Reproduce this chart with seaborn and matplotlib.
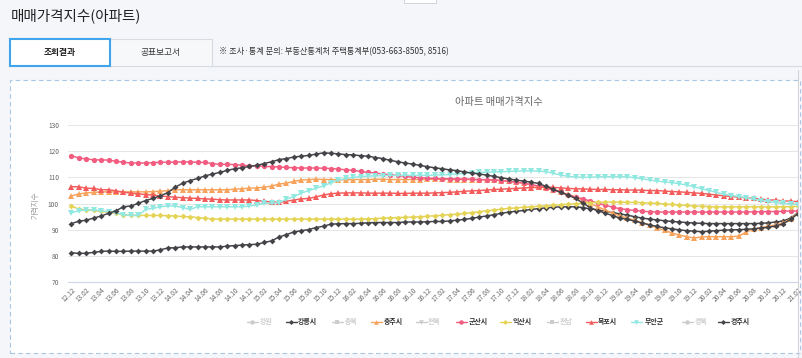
import matplotlib
matplotlib.use("Agg")
import matplotlib.pyplot as plt
from matplotlib.lines import Line2D
from matplotlib.patches import Rectangle
import seaborn as sns
import pandas as pd

# monthly index, 2012.12 ~ 2021.02
months = pd.period_range("2012-12", periods=99, freq="M").strftime("%y.%m").tolist()

gangneung = [81.3, 81.0, 81.1, 81.4, 81.8, 81.9, 81.8, 81.8, 81.9, 81.9,
             81.9, 81.9, 82.4, 83.1, 83.2, 83.5, 83.5, 83.5, 83.5, 83.5,
             83.5, 83.8, 84.0, 84.2, 84.4, 84.5, 85.2, 85.8, 87.3, 88.2,
             89.2, 89.7, 90.1, 90.9, 91.4, 92.2, 92.3, 92.4, 92.4, 92.5,
             92.7, 92.8, 92.8, 92.8, 92.8, 93.0, 93.0, 93.0, 93.1, 93.2,
             93.2, 93.4, 93.7, 94.0, 94.4, 94.9, 95.3, 95.8, 96.3, 96.8,
             97.1, 97.4, 97.8, 98.1, 98.4, 98.6, 98.8, 98.8, 98.8, 98.5,
             98.0, 97.6, 97.1, 96.6, 96.1, 95.6, 95.0, 94.5, 94.1, 93.8,
             93.5, 93.2, 93.0, 92.8, 92.6, 92.5, 92.4, 92.4, 92.4, 92.4,
             92.4, 92.4, 92.4, 92.5, 92.7, 93.0, 93.4, 94.5, 96.5]
chungju = [103.0, 103.7, 104.1, 104.3, 104.5, 104.5, 104.5, 104.5, 104.5, 104.5,
           104.5, 104.6, 104.7, 105.0, 105.3, 105.3, 105.3, 105.3, 105.3, 105.3,
           105.3, 105.3, 105.5, 105.7, 105.9, 106.0, 106.3, 106.7, 107.5, 107.8,
           108.5, 109.0, 109.2, 109.3, 109.2, 109.2, 109.1, 109.1, 109.2, 109.2,
           109.2, 109.3, 109.3, 109.2, 109.2, 109.2, 109.2, 109.2, 109.3, 109.3,
           109.3, 109.2, 109.2, 109.2, 109.2, 109.1, 109.1, 109.0, 108.8, 108.5,
           108.2, 107.8, 107.2, 106.6, 105.9, 105.2, 104.4, 103.5, 102.5, 101.3,
           100.0, 98.8, 97.6, 96.4, 95.3, 94.4, 93.6, 92.8, 91.9, 90.8,
           89.8, 88.8, 88.0, 87.4, 86.9, 87.3, 87.4, 87.4, 87.4, 87.4,
           87.6, 89.2, 90.3, 90.9, 91.4, 91.9, 92.6, 94.2, 96.5]
gunsan = [118.3, 117.4, 117.1, 116.7, 116.7, 116.6, 116.2, 115.8, 115.5, 115.5,
          115.5, 115.6, 115.8, 115.8, 115.9, 115.9, 115.9, 115.8, 115.7, 115.3,
          115.0, 115.0, 114.9, 114.6, 114.5, 114.4, 114.2, 114.1, 114.0, 113.8,
          113.7, 113.6, 113.6, 113.6, 113.5, 113.4, 113.2, 112.9, 112.7, 112.3,
          111.9, 111.7, 111.3, 111.0, 110.8, 110.4, 110.1, 109.9, 109.7, 109.6,
          109.5, 109.5, 109.4, 109.4, 109.3, 109.2, 109.1, 109.0, 108.8, 108.5,
          108.2, 107.8, 107.3, 106.7, 106.0, 105.2, 104.3, 103.4, 102.5, 101.8,
          101.0, 100.2, 99.4, 98.6, 98.1, 97.7, 97.4, 97.1, 96.9, 96.8,
          96.8, 96.8, 96.8, 96.8, 96.8, 96.8, 96.8, 96.8, 96.8, 96.8,
          96.8, 96.8, 96.9, 96.9, 97.0, 97.0, 97.1, 97.2, 97.2]
iksan = [99.1, 97.9, 97.6, 97.4, 97.1, 96.7, 96.3, 95.8, 95.6, 95.5,
         95.5, 95.5, 95.5, 95.4, 95.3, 95.1, 95.0, 94.7, 94.4, 94.2,
         94.1, 94.1, 94.1, 94.1, 94.1, 94.1, 94.1, 94.1, 94.1, 94.1,
         94.1, 94.1, 94.1, 94.1, 94.1, 94.1, 94.1, 94.1, 94.1, 94.1,
         94.2, 94.3, 94.5, 94.6, 94.7, 94.8, 94.9, 95.0, 95.2, 95.4,
         95.6, 95.8, 96.0, 96.3, 96.6, 96.9, 97.3, 97.6, 97.9, 98.2,
         98.4, 98.6, 98.8, 99.0, 99.2, 99.4, 99.6, 99.8, 100.0, 100.2,
         100.4, 100.5, 100.6, 100.6, 100.6, 100.5, 100.5, 100.4, 100.2, 100.1,
         99.9, 99.7, 99.5, 99.3, 99.1, 99.0, 98.9, 98.8, 98.8, 98.8,
         98.8, 98.8, 98.8, 98.8, 98.8, 98.8, 98.8, 98.9, 99.0]
mokpo = [106.5, 106.4, 105.9, 105.8, 105.3, 105.3, 104.9, 104.4, 104.0, 103.8,
         103.4, 103.3, 102.9, 102.7, 102.4, 102.3, 102.1, 102.0, 101.8, 101.7,
         101.5, 101.4, 101.4, 101.4, 101.4, 101.2, 100.9, 100.6, 100.5, 100.9,
         101.4, 101.8, 102.0, 102.6, 103.3, 103.8, 104.0, 104.1, 104.1, 104.1,
         104.0, 104.0, 104.0, 104.0, 103.9, 103.9, 104.0, 104.0, 104.0, 104.1,
         104.2, 104.3, 104.5, 104.7, 104.9, 105.0, 105.2, 105.4, 105.5, 105.7,
         105.8, 106.0, 106.1, 106.2, 106.3, 106.2, 106.0, 105.8, 105.7, 105.6,
         105.5, 105.4, 105.4, 105.3, 105.3, 105.2, 105.2, 105.1, 105.0, 105.0,
         104.8, 104.6, 104.5, 104.3, 104.1, 103.9, 103.6, 103.3, 103.0, 102.7,
         102.5, 102.2, 102.0, 101.7, 101.5, 101.3, 101.1, 100.9, 100.8]
muan = [96.5, 97.3, 97.6, 97.6, 97.3, 96.9, 96.5, 95.7, 95.5, 95.5,
        97.8, 98.2, 98.8, 99.1, 99.1, 98.5, 97.8, 98.8, 98.8, 98.8,
        98.8, 98.8, 98.8, 98.8, 99.1, 99.5, 100.1, 100.1, 100.4, 101.7,
        102.7, 104.0, 105.0, 105.9, 106.8, 107.9, 109.0, 109.6, 110.0, 110.3,
        110.5, 110.6, 110.7, 110.8, 110.8, 110.8, 110.8, 110.8, 110.8, 110.9,
        111.0, 111.1, 111.3, 111.5, 111.7, 111.9, 112.0, 112.1, 112.2, 112.3,
        112.4, 112.5, 112.5, 112.4, 112.2, 111.6, 110.9, 110.4, 110.2, 110.0,
        110.1, 110.2, 110.3, 110.3, 110.3, 110.2, 109.9, 109.5, 109.0, 108.6,
        108.3, 108.0, 107.6, 107.1, 106.4, 105.7, 105.0, 104.3, 103.6, 103.1,
        102.7, 102.2, 101.7, 101.2, 100.8, 100.4, 100.1, 99.8, 99.6]
gyeongju = [92.4, 93.3, 93.7, 94.5, 95.3, 96.3, 97.3, 98.8, 99.1, 100.1,
            101.2, 102.0, 103.0, 104.2, 106.3, 107.8, 108.8, 109.6, 110.6, 111.3,
            111.9, 112.7, 113.3, 113.7, 114.2, 114.6, 115.3, 116.0, 116.8, 117.2,
            117.8, 118.1, 118.4, 118.9, 119.4, 119.2, 119.0, 118.7, 118.6, 118.3,
            118.1, 117.6, 117.2, 116.5, 116.0, 115.5, 115.1, 114.6, 114.1, 113.7,
            113.3, 112.9, 112.6, 112.1, 111.7, 111.3, 110.9, 110.4, 109.9, 109.4,
            109.0, 108.6, 108.2, 107.7, 106.6, 105.5, 104.3, 103.2, 102.0, 100.2,
            98.4, 97.3, 96.4, 95.4, 94.5, 94.0, 93.3, 92.6, 91.9, 91.3,
            90.8, 90.4, 90.0, 89.7, 89.5, 89.3, 89.5, 89.7, 89.9, 90.0,
            90.1, 90.2, 90.4, 90.7, 91.0, 91.5, 92.3, 94.0, 96.2]

series_names = ["강릉시", "충주시", "군산시", "익산시", "목포시", "무안군", "경주시"]
series_values = [gangneung, chungju, gunsan, iksan, mokpo, muan, gyeongju]
legend_names = ["강원", "강릉시", "충북", "충주시", "전북", "군산시",
                "익산시", "전남", "목포시", "무안군", "경북", "경주시"]

colors = {"강릉시": "#434348", "충주시": "#f7a35c", "군산시": "#f15c80", "익산시": "#e4d354",
          "목포시": "#f45b5b", "무안군": "#91e8e1", "경주시": "#434348"}
markers = {"강원": "o", "강릉시": "D", "충북": "s", "충주시": "^", "전북": "v", "군산시": "o",
           "익산시": "D", "전남": "s", "목포시": "^", "무안군": "v", "경북": "o", "경주시": "D"}
# diamonds look bigger than the other symbols at the same size
msize = {"o": 3.8, "D": 3.0, "s": 3.2, "^": 3.9, "v": 3.9}

df = pd.DataFrame({
    "idx": list(range(len(months))) * len(series_names),
    "value": sum(series_values, []),
    "region": [n for n in series_names for _ in months],
})

W, H = 803, 358
sns.set_style("white")
plt.rcParams["font.family"] = ["Noto Sans CJK KR", "DejaVu Sans"]


def fx(x):
    return x / W


def fy(y):
    return 1 - y / H


fig = plt.figure(figsize=(W / 100, H / 100), dpi=100)
fig.patch.set_facecolor("#f4f6f9")

# page header
fig.text(fx(11), fy(16), "매매가격지수(아파트)", fontsize=10.5, color="#222222", va="center")
fig.add_artist(Rectangle((fx(404), fy(3)), fx(32), 0.03, transform=fig.transFigure,
                         facecolor="white", edgecolor="#cfd4da", lw=0.7, zorder=-2))
fig.add_artist(Rectangle((fx(110), fy(66)), fx(102), fy(39) - fy(66), transform=fig.transFigure,
                         facecolor="#f7f8fa", edgecolor="#d6dbe1", lw=0.8, zorder=-2))
fig.add_artist(Rectangle((fx(10), fy(66)), fx(100), fy(39) - fy(66), transform=fig.transFigure,
                         facecolor="white", edgecolor="#41a5ee", lw=1.5, zorder=-1))
fig.text(fx(60), fy(52.5), "조회결과", fontsize=6.3, fontweight="bold", color="#222222",
         ha="center", va="center")
fig.text(fx(161), fy(52.5), "공표보고서", fontsize=6.3, color="#333333", ha="center", va="center")
fig.text(fx(219), fy(52), "※ 조사·통계 문의: 부동산통계처 주택통계부(053-663-8505, 8516)",
         fontsize=5.9, color="#333333", va="center")
fig.add_artist(Line2D([fx(212), 1], [fy(66), fy(66)], transform=fig.transFigure,
                      color="#d6dbe1", lw=0.8, zorder=-2))

# dashed chart container
fig.add_artist(Rectangle((fx(10.5), fy(352.5)), fx(800) - fx(10.5), fy(80) - fy(352.5),
                         transform=fig.transFigure, facecolor="white", edgecolor="#a9c6e6",
                         lw=0.8, linestyle=(0, (4, 3)), zorder=-3))
fig.add_artist(Line2D([fx(798), fx(798)], [fy(70), 0], transform=fig.transFigure,
                      color="#d0d4d9", lw=0.8, zorder=3))

fig.text(fx(499), fy(101.7), "아파트 매매가격지수", fontsize=7.4, color="#666666",
         ha="center", va="center")
fig.text(fx(36), fy(205), "가격지수", fontsize=5.4, color="#999999", rotation=90,
         ha="center", va="center")

ax = fig.add_axes([fx(68), fy(282.3), fx(798) - fx(68), fy(125) - fy(282.3)])
ax.set_zorder(1)
ax.set_facecolor("white")
for marker_kind in ["o", "D", "^", "v"]:
    names = [n for n in series_names if markers[n] == marker_kind]
    sub = df[df["region"].isin(names)]
    sns.lineplot(data=sub, x="idx", y="value", hue="region", style="region",
                 hue_order=names, style_order=names, palette=colors,
                 markers={n: marker_kind for n in names}, dashes=False,
                 markersize=msize[marker_kind], markeredgewidth=0, linewidth=1.05,
                 legend=False, ax=ax)

# keep the original series stacking order
order = {n: i for i, n in enumerate(series_names)}
for line in ax.get_lines():
    ydata = list(line.get_ydata())
    for n, vals in zip(series_names, series_values):
        if ydata == vals:
            line.set_zorder(2 + order[n] * 0.1)

ax.set_xlim(-0.47, 97.75)
ax.set_ylim(70, 130)
ax.set_yticks(range(70, 131, 10))
ax.set_xticks(range(0, len(months), 2))
ax.set_xticklabels(months[::2], rotation=45, ha="right", rotation_mode="anchor")
ax.tick_params(axis="x", length=0, pad=2.5, labelsize=4.8, labelcolor="#666666")
ax.tick_params(axis="y", length=0, pad=6.5, labelsize=4.8, labelcolor="#666666")
ax.set_xlabel("")
ax.set_ylabel("")
ax.grid(axis="y", color="#e6e6e6", lw=0.75)
ax.grid(axis="x", visible=False)
for side in ["left", "right", "top"]:
    ax.spines[side].set_visible(False)
ax.spines["bottom"].set_color("#ccd6eb")
ax.spines["bottom"].set_linewidth(0.8)

# legend (hidden series greyed out)
sym_x = [247, 286, 332, 371, 416, 456, 500, 547, 586, 631, 682, 718]
txt_x = [260, 298, 345, 384, 428, 469, 513, 560, 598, 645, 695, 731]
for name, sx, tx in zip(legend_names, sym_x, txt_x):
    visible = name in colors
    c = colors[name] if visible else "#cccccc"
    fig.add_artist(Line2D([fx(sx), fx(sx + 11)], [fy(321.7), fy(321.7)], transform=fig.transFigure,
                          color=c, lw=1.0))
    fig.add_artist(Line2D([fx(sx + 5.5)], [fy(321.7)], transform=fig.transFigure, color=c,
                          marker=markers[name], markersize=msize[markers[name]] * 0.85,
                          markeredgewidth=0))
    fig.text(fx(tx), fy(321.7), name, fontsize=5.0, color="#333333" if visible else "#cccccc",
             fontweight="bold", va="center")

fig.savefig("out.png", dpi=100, facecolor=fig.get_facecolor())
